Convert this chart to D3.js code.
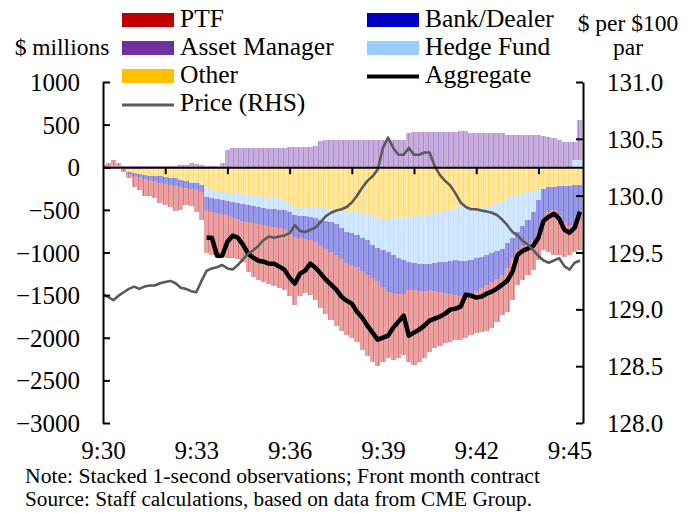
<!DOCTYPE html>
<html>
<head>
<meta charset="utf-8">
<script src="https://cdn.jsdelivr.net/npm/d3@7"></script>
<style>
  body { margin: 0; background: #fff; }
  svg text { font-family: "Liberation Serif", "DejaVu Serif", serif; fill: #000; }
</style>
</head>
<body>
<div id="chart"></div>
<script>
// 10-second samples, $ millions (signed)
var ptf = [30, 40, 70, 20, -23, -47, -129, -152, -199, -188,
  -199, -234, -246, -258, -293, -270, -199, -199, -270, -328,
  -504, -504, -492, -504, -504, -481, -469, -481, -586, -633,
  -656, -668, -680, -691, -703, -715, -750, -797, -680, -633,
  -644, -680, -727, -762, -797, -832, -844, -844, -856, -879,
  -926, -949, -984, -996, -879, -774, -785, -750, -715, -844,
  -879, -832, -785, -727, -668, -633, -586, -563, -527, -516,
  -492, -481, -492, -516, -539, -539, -504, -469, -516, -492,
  -410, -398, -375, -352, -316, -375, -469, -527, -469, -410,
  -340, -316, -352]

var bank = [-15, -20, 0, 0, -12, -23, -35, -35, -47, -47,
  -59, -76, -76, -82, -88, -76, -76, -70, -70, -82,
  -152, -164, -164, -164, -164, -176, -188, -199, -199, -199,
  -199, -199, -199, -211, -211, -223, -234, -258, -258, -270,
  -270, -281, -305, -328, -352, -363, -363, -363, -375, -375,
  -387, -410, -387, -387, -434, -469, -445, -422, -398, -328,
  -316, -316, -316, -305, -328, -352, -363, -387, -410, -410,
  -410, -398, -387, -363, -352, -340, -328, -305, -293, -234,
  -211, -234, -270, -328, -387, -340, -287, -264, -334, -416,
  -469, -463, -410]

var hedge = [0, 0, 0, 0, 0, 0, 0, 0, 0, 0,
  0, -6, -6, -12, -6, -6, -6, -12, -12, -23,
  -105, -94, -94, -94, -94, -105, -105, -117, -117, -129,
  -129, -129, -141, -129, -141, -105, -105, -94, -105, -105,
  -117, -117, -141, -152, -152, -176, -211, -246, -258, -270,
  -293, -305, -340, -352, -363, -387, -434, -469, -492, -527,
  -551, -574, -574, -586, -586, -586, -598, -598, -598, -656,
  -633, -598, -574, -574, -563, -551, -551, -551, -527, -492,
  -434, -375, -328, -246, -129, -12, -6, -6, -6, -6,
  -6, 80, 90]

var other = [0, 0, 0, -10, -18, -53, -64, -76, -88, -100,
  -100, -100, -111, -111, -123, -147, -158, -170, -170, -182,
  -240, -264, -275, -287, -299, -299, -311, -311, -322, -322,
  -334, -346, -346, -357, -357, -393, -416, -463, -463, -463,
  -463, -475, -475, -475, -486, -486, -498, -510, -510, -522,
  -533, -545, -568, -592, -604, -604, -592, -592, -592, -580,
  -568, -557, -557, -545, -533, -522, -510, -498, -486, -440,
  -463, -486, -486, -475, -463, -451, -428, -404, -357, -334,
  -322, -311, -287, -275, -252, -240, -229, -229, -217, -217,
  -211, -211, -205]

var asset = [0, 10, 20, 30, 18, 18, 12, 12, 12, 12,
  12, 18, 18, 18, 18, 23, 29, 47, 41, 23,
  18, 18, 18, 53, 205, 229, 229, 229, 229, 229,
  229, 229, 229, 229, 229, 229, 234, 234, 240, 240,
  240, 252, 311, 322, 322, 322, 322, 322, 322, 322,
  322, 322, 322, 322, 322, 322, 322, 322, 322, 404,
  416, 416, 416, 416, 416, 416, 416, 416, 416, 428,
  428, 404, 404, 404, 404, 404, 404, 404, 381, 381,
  381, 381, 381, 381, 381, 369, 357, 346, 322, 299,
  299, 220, 470]

var aggregate = [null, null, null, null, null, null, null, null, null, null,
  null, null, null, null, null, null, null, null, null, null,
  -826, -826, -1037, -1037, -873, -803, -826, -908, -1014, -1061,
  -1096, -1108, -1131, -1131, -1166, -1201, -1295, -1365, -1248, -1213,
  -1131, -1178, -1248, -1318, -1377, -1436, -1518, -1565, -1600, -1694,
  -1764, -1858, -1940, -2022, -1999, -1975, -1881, -1811, -1741, -1975,
  -1940, -1905, -1858, -1799, -1776, -1752, -1717, -1670, -1658, -1635,
  -1494, -1506, -1529, -1518, -1483, -1459, -1424, -1377, -1330, -1225,
  -1026, -979, -955, -920, -826, -627, -580, -545, -603, -732,
  -768, -709, -522]

// $ per $100 par (RHS)
var price = [129.13, 129.11, 129.08, 129.12, 129.15, 129.18, 129.20, 129.18, 129.20, 129.21,
  129.21, 129.23, 129.24, 129.25, 129.23, 129.19, 129.18, 129.16, 129.15, 129.25,
  129.34, 129.36, 129.37, 129.39, 129.36, 129.35, 129.39, 129.44, 129.49, 129.52,
  129.56, 129.61, 129.64, 129.63, 129.64, 129.65, 129.67, 129.74, 129.69, 129.68,
  129.70, 129.72, 129.77, 129.82, 129.85, 129.87, 129.88, 129.90, 129.94, 130.00,
  130.07, 130.13, 130.17, 130.23, 130.42, 130.51, 130.42, 130.36, 130.36, 130.42,
  130.36, 130.36, 130.38, 130.38, 130.26, 130.18, 130.13, 130.09, 130.02, 129.94,
  129.90, 129.88, 129.88, 129.87, 129.86, 129.85, 129.83, 129.79, 129.74, 129.68,
  129.65, 129.60, 129.57, 129.52, 129.47, 129.43, 129.41, 129.43, 129.45, 129.38,
  129.35, 129.41, 129.43]

// seconds after 9:30:00, one sample every 10 s
var seconds = d3.range(0, 930, 10)

var leftTicks = [-3000, -2500, -2000, -1500, -1000, -500, 0, 500, 1000]
var rightTicks = [128.0, 128.5, 129.0, 129.5, 130.0, 130.5, 131.0]
var minorTicks = [120, 240, 360, 480, 600, 720, 840]
var timeTicks = [0, 180, 360, 540, 720, 900]
var timeLabels = ["9:30", "9:33", "9:36", "9:39", "9:42", "9:45"]

var keys = ["other", "hedge", "asset", "bank", "ptf"]
var names = {ptf: "PTF", bank: "Bank/Dealer", asset: "Asset Manager", hedge: "Hedge Fund", other: "Other"}
var solid = {ptf: "#C00000", bank: "#0000C0", asset: "#7030A0", hedge: "#99CCFF", other: "#FFC000"}
var tint = {ptf: "#EBA8A8", bank: "#9D9DE8", asset: "#CBB1DF", hedge: "#D4E9FF", other: "#FFE9A3"}
var stripe = {ptf: "#DC6E6E", bank: "#7070DA", asset: "#A983C9", hedge: "#BCDDFF", other: "#FFD563"}

var FONT = '"Liberation Serif", "DejaVu Serif", serif'

var W = 699, H = 514
var MARGIN = {TOP: 82, RIGHT: 116, BOTTOM: 91, LEFT: 103},
  WIDTH = W - MARGIN.LEFT - MARGIN.RIGHT,
  HEIGHT = H - MARGIN.TOP - MARGIN.BOTTOM

var root = d3.select("#chart").append("svg")
  .attr("width", W)
  .attr("height", H)
  .attr("font-family", FONT)

// thin vertical stripes stand in for the 1-second columns
var defs = root.append("defs")
keys.forEach(function(k){
  var p = defs.append("pattern")
    .attr("id", "pat-" + k)
    .attr("patternUnits", "userSpaceOnUse")
    .attr("width", 5).attr("height", 10)
  p.append("rect").attr("width", 5).attr("height", 10).attr("fill", tint[k])
  p.append("rect").attr("x", 0).attr("width", 0.9).attr("height", 10).attr("fill", stripe[k])
  p.append("rect").attr("x", 2.6).attr("width", 0.6).attr("height", 10).attr("fill", stripe[k]).attr("opacity", 0.5)
})
defs.append("clipPath").attr("id", "plotclip")
  .append("rect").attr("width", WIDTH).attr("height", HEIGHT)

var svg = root.append("g")
  .attr("transform", "translate(" + MARGIN.LEFT + "," + MARGIN.TOP + ")")

var x = d3.scaleLinear().domain([0, 926]).range([0, WIDTH])
var yL = d3.scaleLinear().domain([-3000, 1000]).range([HEIGHT, 0])
var yR = d3.scaleLinear().domain([128, 131]).range([HEIGHT, 0])

var rows = seconds.map(function(t, i){
  return {t: t, ptf: ptf[i], bank: bank[i], asset: asset[i], hedge: hedge[i], other: other[i]}
})
var layers = d3.stack().keys(keys).offset(d3.stackOffsetDiverging)(rows)

// stacked bars
var plot = svg.append("g").attr("clip-path", "url(#plotclip)")
plot.selectAll("g.layer")
  .data(layers)
  .enter().append("g")
  .attr("class", "layer")
  .attr("fill", function(d){ return "url(#pat-" + d.key + ")" })
  .selectAll("rect")
  .data(function(d){ return d.filter(function(v){ return v[1] != v[0] }) })
  .enter().append("rect")
  .attr("x", function(d){ return x(d.data.t - 5) })
  .attr("width", function(d){ return x(d.data.t + 5) - x(d.data.t - 5) })
  .attr("y", function(d){ return yL(d[1]) })
  .attr("height", function(d){ return yL(d[0]) - yL(d[1]) })
  .attr("shape-rendering", "crispEdges")

// aggregate and price lines
var aggLine = d3.line()
  .defined(function(d){ return d != null })
  .x(function(d, i){ return x(seconds[i]) })
  .y(function(d){ return yL(d) })
plot.append("path")
  .datum(aggregate)
  .attr("d", aggLine)
  .attr("fill", "none")
  .attr("stroke", "#000")
  .attr("stroke-width", 4.5)
  .attr("stroke-linejoin", "round")

var priceLine = d3.line()
  .x(function(d, i){ return x(seconds[i]) })
  .y(function(d){ return yR(d) })
plot.append("path")
  .datum(price)
  .attr("d", priceLine)
  .attr("fill", "none")
  .attr("stroke", "#5A5A5A")
  .attr("stroke-width", 2.6)
  .attr("stroke-linejoin", "round")

// axes
var zeroAxis = svg.append("g")
  .attr("transform", "translate(0," + yL(0) + ")")
  .call(d3.axisBottom(x).tickValues(minorTicks).tickSize(7).tickSizeOuter(0).tickFormat(""))

var leftAxis = svg.append("g")
  .call(d3.axisLeft(yL).tickValues(leftTicks).tickSize(-7).tickSizeOuter(0).tickPadding(23)
    .tickFormat(d3.format("d")))

var rightAxis = svg.append("g")
  .attr("transform", "translate(" + WIDTH + ",0)")
  .call(d3.axisRight(yR).tickValues(rightTicks).tickSize(-7).tickSizeOuter(0).tickPadding(24)
    .tickFormat(d3.format(".1f")))

var timeAxis = svg.append("g")
  .attr("transform", "translate(0," + HEIGHT + ")")
  .call(d3.axisBottom(x).tickValues(timeTicks).tickSize(0).tickPadding(18)
    .tickFormat(function(d, i){ return timeLabels[i] }))
timeAxis.select(".domain").remove()

svg.selectAll(".domain").attr("stroke", "#000").attr("stroke-width", 2)
svg.selectAll(".tick line").attr("stroke", "#000").attr("stroke-width", 2)
svg.selectAll("g").filter(function(){ return this.hasAttribute("font-family") })
  .attr("font-family", FONT)
svg.selectAll(".tick text")
  .attr("font-size", 25)
  .attr("fill", "#000")
leftAxis.selectAll(".tick text").attr("dy", "0.34em")
rightAxis.selectAll(".tick text").attr("dy", "0.34em")

// axis titles
root.append("text").attr("x", 62).attr("y", 55).attr("text-anchor", "middle")
  .attr("font-size", 23.5).text("$ millions")
root.append("text").attr("x", 628).attr("y", 31).attr("text-anchor", "middle")
  .attr("font-size", 23.5).text("$ per $100")
root.append("text").attr("x", 628).attr("y", 55).attr("text-anchor", "middle")
  .attr("font-size", 23.5).text("par")

// legend
var legendItems = [
  {key: "ptf", col: 0, row: 0}, {key: "bank", col: 1, row: 0},
  {key: "asset", col: 0, row: 1}, {key: "hedge", col: 1, row: 1},
  {key: "other", col: 0, row: 2}
]
var colX = [122, 367], rowY = [20, 48, 76, 104]
var legend = root.append("g")
legendItems.forEach(function(d){
  legend.append("rect")
    .attr("x", colX[d.col]).attr("y", rowY[d.row] - 7)
    .attr("width", 52).attr("height", 14)
    .attr("fill", solid[d.key])
  legend.append("text")
    .attr("x", colX[d.col] + 58).attr("y", rowY[d.row] + 7)
    .attr("font-size", 25.5).text(names[d.key])
})
legend.append("line")
  .attr("x1", colX[0]).attr("x2", colX[0] + 52).attr("y1", rowY[3] + 1).attr("y2", rowY[3] + 1)
  .attr("stroke", "#5A5A5A").attr("stroke-width", 3)
legend.append("text").attr("x", colX[0] + 58).attr("y", rowY[3] + 7)
  .attr("font-size", 25.5).text("Price (RHS)")
legend.append("line")
  .attr("x1", colX[1]).attr("x2", colX[1] + 52).attr("y1", rowY[2] + 0.5).attr("y2", rowY[2] + 0.5)
  .attr("stroke", "#000").attr("stroke-width", 4)
legend.append("text").attr("x", colX[1] + 58).attr("y", rowY[2] + 7)
  .attr("font-size", 25.5).text("Aggregate")

// notes
root.append("text").attr("x", 25).attr("y", 483).attr("font-size", 20)
  .attr("textLength", 515).attr("lengthAdjust", "spacingAndGlyphs")
  .text("Note: Stacked 1-second observations; Front month contract")
root.append("text").attr("x", 25).attr("y", 506).attr("font-size", 20)
  .attr("textLength", 507).attr("lengthAdjust", "spacingAndGlyphs")
  .text("Source: Staff calculations, based on data from CME Group.")
</script>
</body>
</html>
